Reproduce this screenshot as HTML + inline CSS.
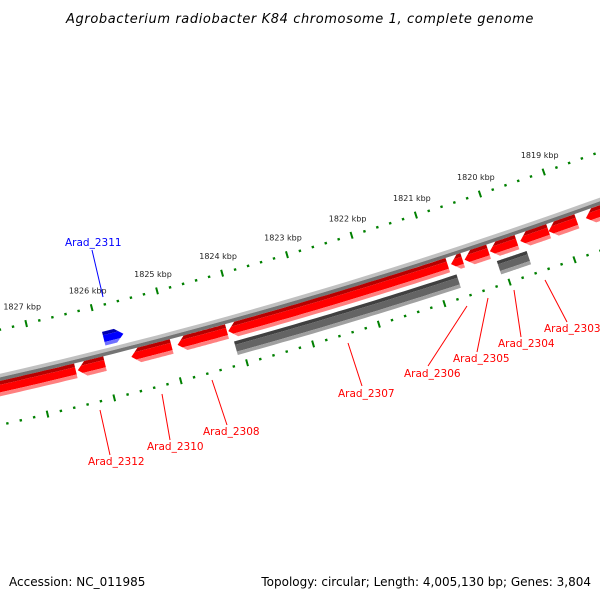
<!DOCTYPE html>
<html><head><meta charset="utf-8"><style>
html,body{margin:0;padding:0;background:#fff;}
svg{display:block;font-family:"DejaVu Sans","Liberation Sans",sans-serif;}
</style></head><body>
<svg id="chart" width="600" height="600" viewBox="0 0 600 600">
<defs id="defs"></defs>
<text x="300" y="23" text-anchor="middle" font-size="13" font-style="italic" letter-spacing="0.6" fill="#000">Agrobacterium radiobacter K84 chromosome 1, complete genome</text>
<g id="ticks"></g>
<g id="backbone"></g>
<g id="genes"></g>
<g id="labels"></g>
<text x="9" y="586" font-size="12" fill="#000">Accession: NC_011985</text>
<text x="591" y="586" text-anchor="end" font-size="12" fill="#000">Topology: circular; Length: 4,005,130 bp; Genes: 3,804</text>
</svg>
<script>
// data
const tickStart = 1817.6, tickEnd = 1828.4;
const majorTicks = [1819,1820,1821,1822,1823,1824,1825,1826,1827];
const geneNames = ["Arad_2312a","Arad_2312","Arad_2310","Arad_2308","Arad_2307r","Arad_2306","Arad_2305","Arad_2304","Arad_2303","Arad_2302","Arad_2301","Arad_2307","Arad_2304g","Arad_2311"];
const geneStart = [1828.3,1826.42,1825.61,1824.91,1824.14,1820.73,1820.52,1820.13,1819.66,1819.22,1818.64,1824.10,1820.08,1825.94];
const geneEnd   = [1826.45,1826.01,1825.00,1824.16,1820.78,1820.55,1820.15,1819.71,1819.22,1818.78,1818.0,1820.70,1819.62,1825.64];
const geneStrand= [-1,-1,-1,-1,-1,-1,-1,-1,-1,-1,-1,0,0,1];
const geneTrack = [1,1,1,1,1,1,1,1,1,1,1,2,2,0];
const geneKind  = ["red","red","red","red","red","red","red","red","red","red","red","gray","gray","blue"];

// geometry
const CX=-1138, CY=-4612;
const trackR = {0:[5097,5111],1:[5121,5136],2:[5140,5154]};
const palette = {red:['#b80000','#ff0000','#ff8080'],gray:['#404040','#646464','#a0a0a0'],blue:['#0000b0','#0000ff','#7070ff']};
function ang(k){return (73.68+(k-1823)*0.762)*Math.PI/180;}
function pt(k,r){const a=ang(k);return [CX+r*Math.cos(a),CY+r*Math.sin(a)];}
const NS="http://www.w3.org/2000/svg";
function mk(tag,attrs,parent){const e=document.createElementNS(NS,tag);for(const k in attrs)e.setAttribute(k,attrs[k]);parent.appendChild(e);return e;}
function ptsStr(a){return a.map(p=>p[0].toFixed(1)+','+p[1].toFixed(1)).join(' ');}
function band(k1,k2,r1,r2){
  const top=[],bot=[];const n=30;
  for(let i=0;i<=n;i++){const k=k1+(k2-k1)*i/n;top.push(pt(k,r1));bot.push(pt(k,r2));}
  return top.concat(bot.reverse());
}

// backbone
const bb=document.getElementById('backbone');
[[5114,5117.5,'#c0c0c0'],[5117.5,5121,'#747474']].forEach(b=>{
  const p=mk('polygon',{points:ptsStr(band(tickEnd,tickStart,b[0],b[1])),fill:b[2]},bb);
  
  
});

// ticks
const tg=document.getElementById('ticks');
[5071,5164].forEach((R)=>{
  for(let i=0;tickStart+i*0.2<=tickEnd;i++){
    const k=tickStart+i*0.2;
    const isMajor=Math.abs(k-Math.round(k))<0.01;
    const len=isMajor?3.5:1.2;
    const a=pt(k,R-len),b=pt(k,R+len);
    const l=mk('line',{x1:a[0],y1:a[1],x2:b[0],y2:b[1],stroke:'#008000','stroke-width':isMajor?2:2.4},tg);
    
    
  }
});
majorTicks.forEach(k=>{
  const p=pt(k,5071);
  const t=mk('text',{x:(p[0]-4).toFixed(1),y:(p[1]-14).toFixed(1),'text-anchor':'middle','font-size':'8',fill:'#222'},tg);
  t.textContent=k+' kbp';
  
  
});

// genes
const gg=document.getElementById('genes');
const defs=document.getElementById('defs');
geneNames.forEach((name,i)=>{
  const [r1,r2]=trackR[geneTrack[i]];
  const rm=(r1+r2)/2;
  const hi=Math.max(geneStart[i],geneEnd[i]), lo=Math.min(geneStart[i],geneEnd[i]);
  const head=0.12;
  const st=geneStrand[i];
  const bodyHi = st===-1 ? hi-head : hi;
  const bodyLo = st===1 ? lo+head : lo;
  const top=[],bot=[];const n=30;
  for(let j=0;j<=n;j++){const k=bodyHi+(bodyLo-bodyHi)*j/n;top.push(pt(k,r1));bot.push(pt(k,r2));}
  let pts=[];
  if(st===-1)pts.push(pt(hi,rm));
  pts=pts.concat(top);
  if(st===1)pts.push(pt(lo,rm));
  pts=pts.concat(bot.reverse());
  const cp=mk('clipPath',{id:'clip'+i},defs);
  mk('polygon',{points:ptsStr(pts)},cp);
  const g=mk('g',{'clip-path':'url(#clip'+i+')'},gg);
  
  
  const c=palette[geneKind[i]];
  const h=r2-r1;
  [[r1-1,r1+h*0.25,c[0]],[r1+h*0.25,r1+h*0.75,c[1]],[r1+h*0.75,r2+1,c[2]]].forEach(b=>{
    mk('polygon',{points:ptsStr(band(hi+0.01,lo-0.01,b[0],b[1])),fill:b[2]},g);
  });
});

// labels
const lg=document.getElementById('labels');
const labelText=["Arad_2311","Arad_2312","Arad_2310","Arad_2308","Arad_2307","Arad_2306","Arad_2305","Arad_2304","Arad_2303"];
const labelPos=[[65,246,92,250,103,297,'#0000ff'],[88,465,100,410,110,455,'#ff0000'],[147,450,162,394,170,440,'#ff0000'],[203,435,212,380,227,425,'#ff0000'],[338,397,348,343,362,386,'#ff0000'],[404,377,467,306,428,366,'#ff0000'],[453,362,488,298,477,352,'#ff0000'],[498,347,514,290,521,337,'#ff0000'],[544,332,545,280,567,322,'#ff0000']];
labelText.forEach((s,i)=>{
  const q=labelPos[i];
  const l=mk('line',{x1:q[2],y1:q[3],x2:q[4],y2:q[5],stroke:q[6],'stroke-width':1},lg);
  
  
  const t=mk('text',{x:q[0],y:q[1],'font-size':'10.5',fill:q[6]},lg);
  t.textContent=s;
  
  
});
</script>
</body></html>
